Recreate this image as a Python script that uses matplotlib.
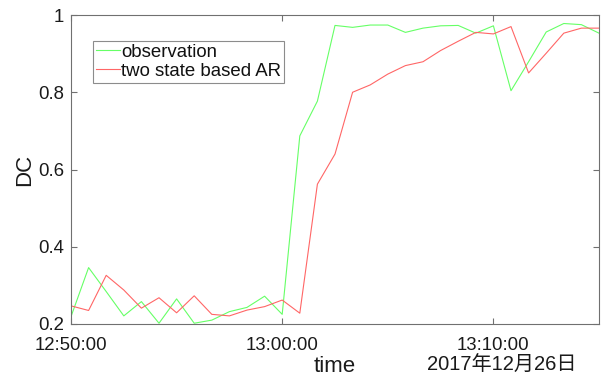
import numpy as np
import pandas as pd
import matplotlib
matplotlib.use('Agg')
import matplotlib.pyplot as plt
import matplotlib.dates as mdates

plt.rcParams['font.family'] = ['Liberation Sans', 'Noto Sans CJK JP', 'DejaVu Sans']

# sample times: every 50 s from 12:50:00
times = pd.date_range('2017-12-26 12:50:00', periods=31, freq='50s')

observation = [0.219, 0.346, 0.284, 0.221, 0.258, 0.202, 0.265, 0.202, 0.210, 0.232,
               0.243, 0.272, 0.225, 0.687, 0.777, 0.973, 0.968, 0.974, 0.974, 0.955,
               0.966, 0.972, 0.973, 0.953, 0.972, 0.804, 0.879, 0.956, 0.978, 0.975,
               0.953]
two_state_ar = [0.247, 0.235, 0.326, 0.288, 0.241, 0.268, 0.229, 0.273, 0.225, 0.221,
                0.236, 0.245, 0.262, 0.228, 0.562, 0.640, 0.800, 0.819, 0.847, 0.869,
                0.879, 0.908, 0.932, 0.955, 0.951, 0.970, 0.850, 0.901, 0.953, 0.966,
                0.966]

yticks = [0.2, 0.4, 0.6, 0.8, 1.0]
ytick_labels = ['0.2', '0.4', '0.6', '0.8', '1']
xticks = pd.to_datetime(['2017-12-26 12:50:00', '2017-12-26 13:00:00', '2017-12-26 13:10:00'])
xtick_labels = ['12:50:00', '13:00:00', '13:10:00']
xlim = pd.to_datetime(['2017-12-26 12:50:00', '2017-12-26 13:15:00'])

fig = plt.figure(figsize=(6.04, 3.76), dpi=100)
ax = fig.add_axes([71/604, 1 - 324/376, 528/604, 309/376])

ax.plot(times, observation, color='#66ff66', lw=0.8, label='observation')
ax.plot(times, two_state_ar, color='#ff6666', lw=0.8, label='two state based AR')

ax.set_xlim(xlim[0], xlim[1])
ax.set_ylim(0.2, 1.0)
ax.set_yticks(yticks)
ax.set_yticklabels(ytick_labels)
ax.set_xticks(xticks)
ax.set_xticklabels(xtick_labels)

ax.tick_params(direction='in', length=4, width=0.8, color='#707070',
               top=True, right=True, labelsize=13.4, labelcolor='#1a1a1a')
ax.tick_params(axis='x', pad=9)
ax.tick_params(axis='y', pad=5)
for s in ax.spines.values():
    s.set_color('#707070')
    s.set_linewidth(0.8)

ax.set_ylabel('DC', fontsize=16, color='#1a1a1a', labelpad=2)
fig.text(335/604, 1 - 366/376, 'time', ha='center', va='center',
         fontsize=16, color='#1a1a1a')
fig.text(577/604, 1 - 365/376, '2017年12月26日', ha='right', va='center',
         fontsize=14.5, color='#1a1a1a')

leg = ax.legend(loc='upper left', bbox_to_anchor=(93/604, 1 - 41/376),
                bbox_transform=fig.transFigure, borderaxespad=0,
                fontsize=13.4, frameon=True, fancybox=False, shadow=False,
                handlelength=1.3, handletextpad=0.05, borderpad=0.15,
                labelspacing=0.1)
leg.get_frame().set_edgecolor('#707070')
leg.get_frame().set_linewidth(0.8)
for t in leg.get_texts():
    t.set_color('#111111')

fig.savefig('out.png', dpi=100)
